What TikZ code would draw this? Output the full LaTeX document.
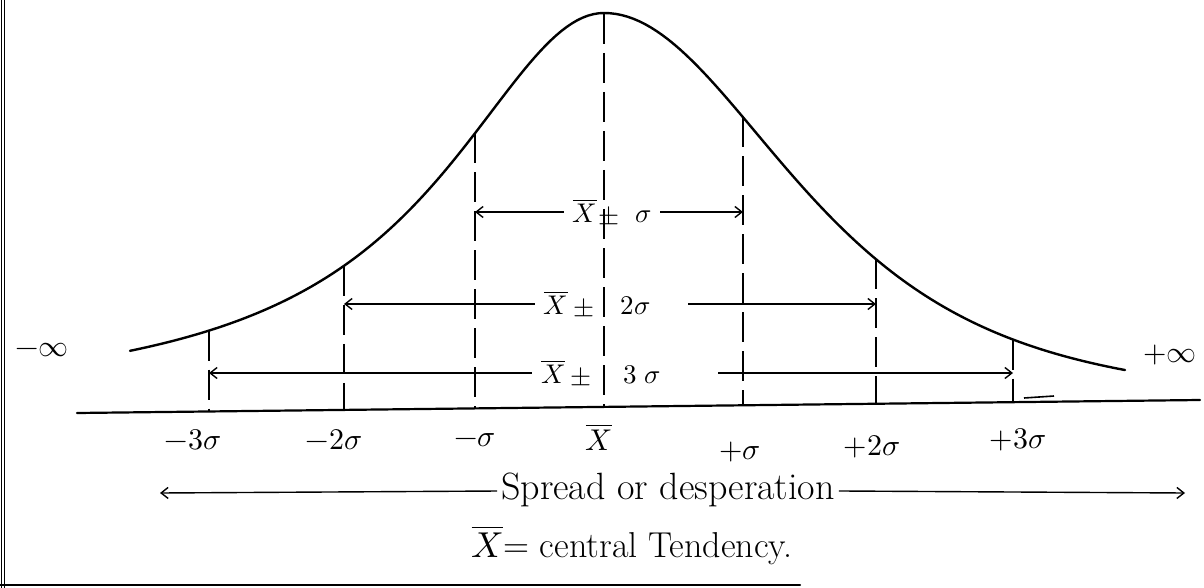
\documentclass[tikz,border=0pt]{standalone}
\usepackage{unicode-math}
\usetikzlibrary{arrows.meta}
\begin{document}
\begin{tikzpicture}[x=1pt,y=-1pt,
  curveline/.style={line width=2.4pt, line cap=round, line join=round},
  axisline/.style={line width=2.2pt, line cap=round},
  guide/.style={line width=1.8pt, dash pattern=on 30pt off 9pt},
  span/.style={line width=1.4pt},
  tip/.style={-{Straight Barb[length=7pt,width=11pt,line width=1.4pt]}},
  lbl/.style={font=\fontsize{30}{34}\selectfont, inner sep=0pt},
  midlbl/.style={font=\fontsize{27}{32}\selectfont, inner xsep=9pt, inner ysep=0pt},
  note/.style={font=\fontsize{38}{44}\selectfont, inner xsep=4pt, inner ysep=0pt}]
\useasboundingbox (0,0) rectangle (1204,588);

% left border (double line)
\draw[line width=1pt] (1.5,0) -- (1.5,588);
\draw[line width=1pt] (4.5,0) -- (4.5,588);

% baseline
\coordinate (b0) at (77,413);
\coordinate (b1) at (1200,400);
\draw[axisline] (b0) -- (b1);

% curve (left and right halves)
\draw[curveline] plot[domain=130:604, samples=90] (\x, {408-395/(1+((\x-604)/195)^2)})
  -- plot[domain=604:1125, samples=90] (\x, {405-392/((1+((\x-604)/340)^2)^2)});

% guide lines
\coordinate (t3l) at (209,{408-395/(1+((209-604)/195)^2)});  \coordinate (f3l) at (209,411.5);
\coordinate (t2l) at (344,{408-395/(1+((344-604)/195)^2)});  \coordinate (f2l) at (344,410);
\coordinate (t1l) at (475,{408-395/(1+((475-604)/195)^2)});  \coordinate (f1l) at (475,408.4);
\coordinate (tm)  at (604,14);   \coordinate (fm)  at (604,407);
\coordinate (t1r) at (743,{405-392/((1+((743-604)/340)^2)^2)});  \coordinate (f1r) at (743,405.3);
\coordinate (t2r) at (876,{405-392/((1+((876-604)/340)^2)^2)});  \coordinate (f2r) at (876,403.7);
\coordinate (t3r) at (1013,{405-392/((1+((1013-604)/340)^2)^2)}); \coordinate (f3r) at (1013,402.2);
\foreach \a/\b in {t3l/f3l,t2l/f2l,t1l/f1l,tm/fm,t1r/f1r,t2r/f2r,t3r/f3r}
  \draw[guide] (\a) -- (\b);

% small stray stroke near +3 sigma
\coordinate (s0) at (1024,398);
\coordinate (s1) at (1054,396);
\draw[line width=1.6pt] (s0) -- (s1);

% range 1
\node[midlbl] (r1) at (612,212) {$\overline{X}\!\pm\hspace{10pt}\sigma$};
\coordinate (a1l) at (475,212);
\coordinate (a1r) at (743,212);
\draw[span,tip] (r1) -- (a1l);
\draw[span,tip] (r1) -- (a1r);

% range 2
\node[midlbl] (r2) at (597,304) {$\overline{X}\pm\hspace{20pt}2\sigma$};
\coordinate (a2l) at (344,304);
\coordinate (a2m) at (688,304);
\coordinate (a2r) at (876,304);
\draw[span,tip] (r2) -- (a2l);
\draw[span,tip] (a2m) -- (a2r);

% range 3
\node[midlbl] (r3) at (601,373) {$\overline{X}\pm\hspace{26pt}3\;\sigma$};
\coordinate (a3l) at (209,373);
\coordinate (a3m) at (718,373);
\coordinate (a3r) at (1013,373);
\draw[span,tip] (r3) -- (a3l);
\draw[span,tip] (a3m) -- (a3r);

% infinity labels
\node[lbl] (minf) at (42,350) {$-\infty$};
\node[lbl] (pinf) at (1170,355) {$+\infty$};

% axis labels
\node[lbl] (l3l) at (193,440) {$-3\sigma$};
\node[lbl] (l2l) at (334,440) {$-2\sigma$};
\node[lbl] (l1l) at (475,440) {$-\sigma$};
\node[lbl] (lm)  at (599,437) {$\overline{X}$};
\node[lbl] (l1r) at (740,452) {$+\sigma$};
\node[lbl] (l2r) at (872,447) {$+2\sigma$};
\node[lbl] (l3r) at (1018,440) {$+3\sigma$};

% spread arrow
\node[note] (spr) at (668,490) {Spread or desperation};
\coordinate (sl) at (160,493);
\coordinate (sr) at (1185,493);
\draw[span,tip] (spr) -- (sl);
\draw[span,tip] (spr) -- (sr);

% central tendency note
\node[note, font=\fontsize{36}{42}\selectfont] (ct) at (632,545) {$\overline{X}$= central Tendency.};

% bottom rule
\coordinate (u0) at (0,585);
\coordinate (u1) at (800,585);
\draw[axisline] (u0) -- (u1);
\end{tikzpicture}
\end{document}
